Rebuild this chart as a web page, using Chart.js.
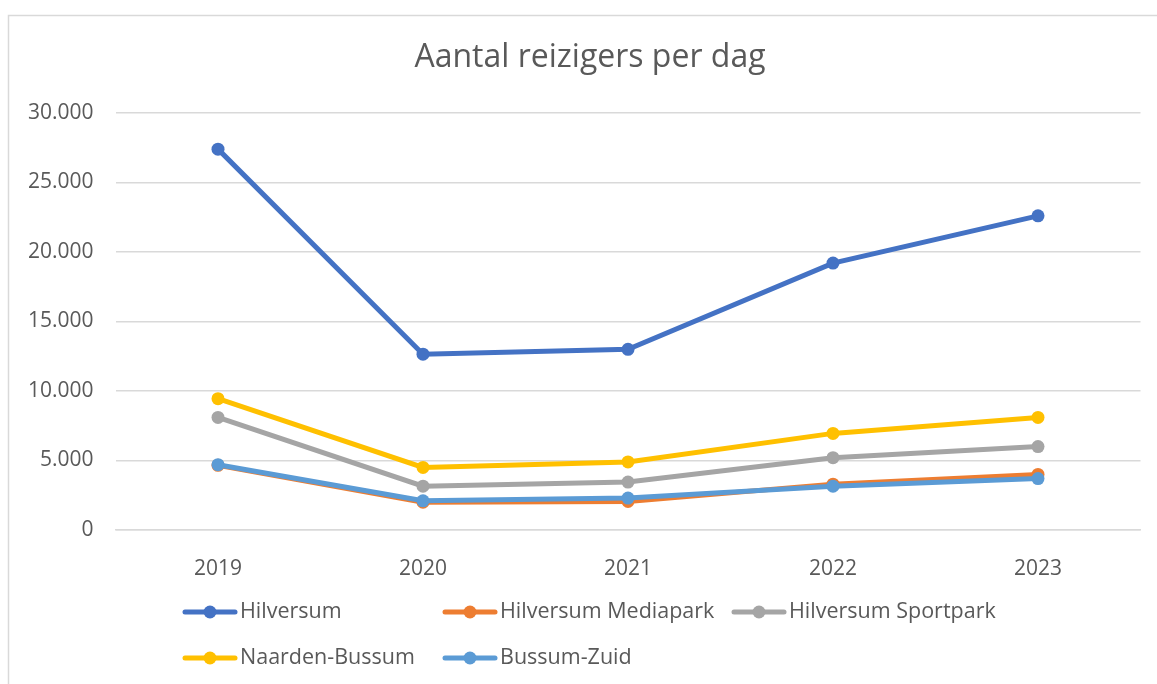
<!DOCTYPE html>
<html>
<head>
<meta charset="utf-8">
<script src="https://cdn.jsdelivr.net/npm/chart.js@4.4.0/dist/chart.umd.min.js"></script>
<style>
    html, body { margin: 0; padding: 0; background: #ffffff; }
    #wrap { position: relative; width: 1157px; height: 684px; }
</style>
</head>
<body>
<div id="wrap"><canvas id="grafiek"></canvas></div>
<script>
const jaren = ['2019', '2020', '2021', '2022', '2023'];
const stations = ['Hilversum', 'Hilversum Mediapark', 'Hilversum Sportpark', 'Naarden-Bussum', 'Bussum-Zuid'];
const hilversum = [27400, 12650, 13000, 19200, 22600];
const mediapark = [4650, 2000, 2050, 3300, 4000];
const sportpark = [8100, 3150, 3450, 5200, 6000];
const naardenBussum = [9450, 4500, 4900, 6950, 8100];
const bussumZuid = [4700, 2100, 2300, 3150, 3700];
const yTicks = [0, 5000, 10000, 15000, 20000, 25000, 30000];
const titel = 'Aantal reizigers per dag';

const kleuren = ['#4472C4', '#ED7D31', '#A5A5A5', '#FFC000', '#5B9BD5'];
const reeksen = [hilversum, mediapark, sportpark, naardenBussum, bussumZuid];
const tekstKleur = '#595959';
const lettertype = '"Open Sans", "Noto Sans", sans-serif';

function formatNL(v) {
    return String(v).replace(/\B(?=(\d{3})+(?!\d))/g, '.');
}

// rand + titel + legenda in Excel-stijl
const excelDecor = {
    id: 'excelDecor',
    beforeDraw(chart) {
        const ctx = chart.ctx;
        ctx.save();
        ctx.fillStyle = '#ffffff';
        ctx.fillRect(0, 0, chart.width, chart.height);
        ctx.strokeStyle = '#d9d9d9';
        ctx.lineWidth = 1.5;
        ctx.strokeRect(8.5, 15.5, chart.width + 20, chart.height + 20);
        ctx.restore();
    },
    afterDraw(chart) {
        const ctx = chart.ctx;
        ctx.save();
        ctx.fillStyle = tekstKleur;
        ctx.textAlign = 'center';
        ctx.textBaseline = 'alphabetic';
        ctx.font = '32px ' + lettertype;
        ctx.fillText(titel, 590, 67);

        const kolommen = [183, 443, 732];
        const rijen = [612, 658];
        ctx.font = '21.5px ' + lettertype;
        ctx.textAlign = 'left';
        ctx.textBaseline = 'middle';
        chart.data.datasets.forEach((ds, i) => {
            const x = kolommen[i % 3];
            const y = rijen[Math.floor(i / 3)];
            ctx.strokeStyle = ds.borderColor;
            ctx.lineWidth = 5;
            ctx.lineCap = 'round';
            ctx.beginPath();
            ctx.moveTo(x + 2, y);
            ctx.lineTo(x + 52, y);
            ctx.stroke();
            ctx.fillStyle = ds.borderColor;
            ctx.beginPath();
            ctx.arc(x + 27, y, 6.5, 0, Math.PI * 2);
            ctx.fill();
            ctx.fillStyle = tekstKleur;
            ctx.fillText(ds.label, x + 57, y);
        });
        ctx.restore();
    }
};

const datasets = stations.map((naam, i) => ({
    label: naam,
    data: reeksen[i],
    borderColor: kleuren[i],
    backgroundColor: kleuren[i],
    borderWidth: 5,
    pointRadius: 6.5,
    pointHoverRadius: 6.5,
    pointBorderWidth: 0,
    tension: 0,
    order: stations.length - i
}));

new Chart(document.getElementById('grafiek').getContext('2d'), {
    type: 'line',
    data: { labels: jaren, datasets: datasets },
    options: {
        responsive: true,
        maintainAspectRatio: false,
        animation: false,
        layout: { padding: { top: 113, right: 16.5, bottom: 104, left: 0 } },
        scales: {
            x: {
                offset: true,
                grid: { display: false },
                border: { color: '#d9d9d9', width: 1.5 },
                ticks: { color: tekstKleur, font: { family: lettertype, size: 21 }, padding: 18, maxRotation: 0 },
                afterFit(s) { s.height = 50; }
            },
            y: {
                min: 0,
                max: 30000,
                afterBuildTicks(s) { s.ticks = yTicks.map(v => ({ value: v })); },
                grid: { color: '#d9d9d9', lineWidth: 1.5, drawTicks: false },
                border: { display: false },
                ticks: {
                    color: tekstKleur,
                    font: { family: lettertype, size: 21 },
                    padding: 22,
                    callback: v => formatNL(v)
                },
                afterFit(s) { s.width = 115.5; }
            }
        },
        plugins: {
            legend: { display: false },
            title: { display: false },
            tooltip: { enabled: false }
        }
    },
    plugins: [excelDecor]
});
</script>
</body>
</html>
